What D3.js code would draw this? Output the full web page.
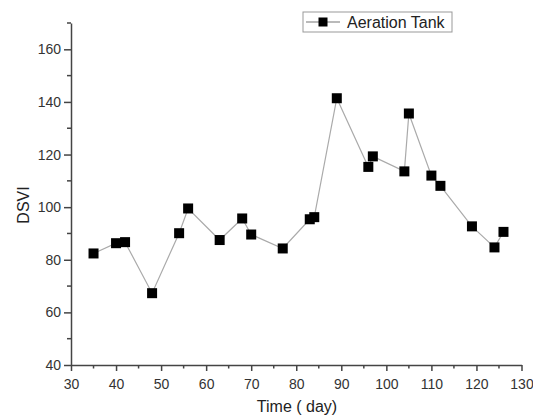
<!DOCTYPE html>
<html><head><meta charset="utf-8">
<script src="https://cdn.jsdelivr.net/npm/d3@7"></script>
<style>body{margin:0;background:#fff}svg{display:block}text{font-family:"Liberation Sans",Arial,sans-serif}</style>
</head><body>
<svg id="c" width="533" height="418"></svg>
<script>
const days = [35,40,42,48,54,56,63,68,70,77,83,84,89,96,97,104,105,110,112,119,124,126];
const dsvi = [82.4,86.3,86.7,67.3,90.1,99.5,87.5,95.7,89.6,84.3,95.4,96.2,141.4,115.3,119.3,113.6,135.6,112,108.1,92.7,84.7,90.6];
const xTicks = [30,40,50,60,70,80,90,100,110,120,130];
const yTicks = [40,60,80,100,120,140,160];
const seriesName = "Aeration Tank";

const svg = d3.select("#c");
const x = d3.scaleLinear().domain([30,130]).range([71,521.5]);
const y = d3.scaleLinear().domain([40,170]).range([365,23]);
const axisColor = "#444";

// minor ticks
const xMinor = d3.range(35,130,10);
const yMinor = d3.range(50,170,20).concat([170]);

const gx = svg.append("g").attr("transform","translate(0,365)");
gx.call(d3.axisBottom(x).tickValues(xTicks).tickSize(6).tickSizeOuter(0).tickFormat(d3.format("d")));
gx.selectAll("line").attr("stroke",axisColor).attr("stroke-width",1.5);
gx.select(".domain").attr("stroke",axisColor).attr("stroke-width",1.5);
gx.selectAll("text").attr("font-size",14).attr("fill","#333").attr("dy","1.05em");
gx.selectAll(".minor").data(xMinor).enter().append("line")
  .attr("x1",d=>x(d)).attr("x2",d=>x(d)).attr("y1",0).attr("y2",3.5)
  .attr("stroke",axisColor).attr("stroke-width",1.5);

const gy = svg.append("g").attr("transform","translate(71,0)");
gy.call(d3.axisLeft(y).tickValues(yTicks).tickSize(7).tickSizeOuter(0).tickFormat(d3.format("d")));
gy.selectAll("line").attr("stroke",axisColor).attr("stroke-width",1.5);
gy.select(".domain").attr("stroke",axisColor).attr("stroke-width",1.5);
gy.selectAll("text").attr("font-size",14).attr("fill","#333").attr("x",-10);
gy.selectAll(".minor").data(yMinor).enter().append("line")
  .attr("y1",d=>y(d)).attr("y2",d=>y(d)).attr("x1",0).attr("x2",-4)
  .attr("stroke",axisColor).attr("stroke-width",1.5);

// axis titles
svg.append("text").attr("x",297).attr("y",412).attr("text-anchor","middle")
  .attr("font-size",16).attr("fill","#222").text("Time ( day)");
svg.append("text").attr("transform","translate(29,205) rotate(-90)").attr("text-anchor","middle")
  .attr("font-size",16).attr("fill","#222").text("DSVI");

// line
const pts = days.map((d,i)=>[d,dsvi[i]]);
svg.append("path").datum(pts)
  .attr("fill","none").attr("stroke","#aaa").attr("stroke-width",1.2)
  .attr("d",d3.line().x(d=>x(d[0])).y(d=>y(d[1])));
const ms = 10;
svg.selectAll(".pt").data(pts).enter().append("rect")
  .attr("x",d=>x(d[0])-ms/2).attr("y",d=>y(d[1])-ms/2)
  .attr("width",ms).attr("height",ms).attr("fill","#000");

// legend
const lg = svg.append("g");
lg.append("rect").attr("x",303).attr("y",12).attr("width",149).attr("height",20)
  .attr("fill","#fff").attr("stroke","#999").attr("stroke-width",1);
lg.append("line").attr("x1",306).attr("x2",340).attr("y1",22).attr("y2",22)
  .attr("stroke","#777").attr("stroke-width",1.2);
lg.append("rect").attr("x",318.5).attr("y",17.5).attr("width",9).attr("height",9).attr("fill","#000");
lg.append("text").attr("x",347).attr("y",27.5).attr("font-size",16).attr("fill","#222").text(seriesName);
</script>
</body></html>
